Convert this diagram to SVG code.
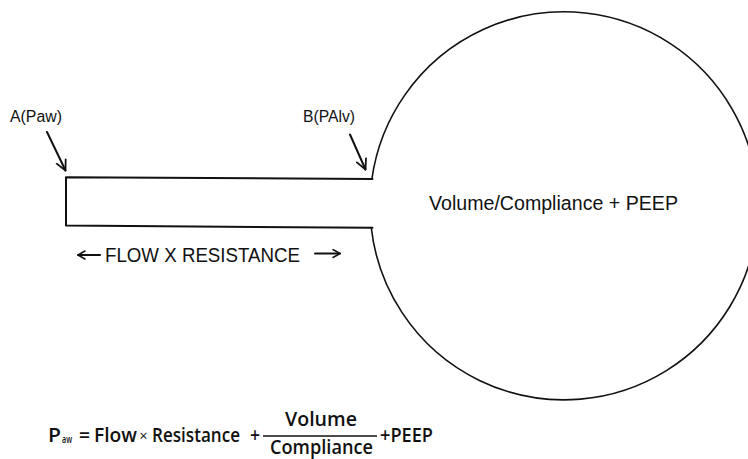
<svg xmlns="http://www.w3.org/2000/svg" width="748" height="459" viewBox="0 0 748 459">
<style>
  .ln { fill: none; stroke: #111; stroke-width: 2; stroke-linecap: round; stroke-linejoin: round; }
  .cir { fill: none; stroke: #111; stroke-width: 1.6; }
  .t { font-family: "Liberation Sans", Arial, Helvetica, sans-serif; fill: #111; }
  .f { font-family: "Open Sans", "Liberation Sans", Arial, sans-serif; font-weight: 600; fill: #111; font-size: 20.5px; }
  .fs { font-family: "Open Sans", "Liberation Sans", Arial, sans-serif; font-weight: 600; fill: #111; font-size: 11px; }
  .fx { font-family: "Open Sans", "Liberation Sans", Arial, sans-serif; fill: #111; font-size: 15px; }
</style>
<defs>
  <marker id="ah" markerUnits="userSpaceOnUse" viewBox="0 0 12 12" markerWidth="12" markerHeight="12" refX="11" refY="6" orient="auto">
    <path d="M1,1 L11,6 L1,11" fill="none" stroke="#111" stroke-width="1.8" stroke-linecap="round" stroke-linejoin="round"/>
  </marker>
  <marker id="ahs" markerUnits="userSpaceOnUse" viewBox="0 0 10 10" markerWidth="10" markerHeight="10" refX="9" refY="5" orient="auto">
    <path d="M2,1 L9,5 L2,9" fill="none" stroke="#111" stroke-width="1.5" stroke-linecap="round" stroke-linejoin="round"/>
  </marker>
</defs>
<rect width="748" height="459" fill="#fff"/>

<g id="alveolus">
  <path class="cir" d="M371.9,179 A194,194 0 1 1 371.3,228"/>
  <text class="t" x="429" y="210" font-size="19.5" textLength="249" lengthAdjust="spacingAndGlyphs">Volume/Compliance + PEEP</text>
</g>

<g id="airway">
  <path class="ln" d="M372.5,179 L66,177.3 L66,225.5 L372.5,227.8"/>
</g>

<g id="labelA">
  <text class="t" x="10" y="122" font-size="16" textLength="52" lengthAdjust="spacingAndGlyphs">A(Paw)</text>
</g>
<g id="labelB">
  <text class="t" x="303" y="122" font-size="16" textLength="52" lengthAdjust="spacingAndGlyphs">B(PAlv)</text>
</g>

<g id="flowLabel">
  <text class="t" x="105" y="262" font-size="19.5" textLength="195" lengthAdjust="spacingAndGlyphs">FLOW X RESISTANCE</text>
</g>

<g id="connectors">
  <line class="ln" x1="47" y1="132" x2="65.5" y2="170.5" marker-end="url(#ah)"/>
  <line class="ln" x1="350" y1="134.5" x2="365.5" y2="169.5" marker-end="url(#ah)"/>
  <line class="ln" stroke-width="1.6" x1="100" y1="255" x2="78" y2="255" marker-end="url(#ahs)"/>
  <line class="ln" stroke-width="1.6" x1="315" y1="253.5" x2="340" y2="253.5" marker-end="url(#ahs)"/>
</g>

<g id="equation">
  <text class="f" x="48" y="442" textLength="13" lengthAdjust="spacingAndGlyphs">P</text>
  <text class="fs" x="62" y="443" textLength="10" lengthAdjust="spacingAndGlyphs">aw</text>
  <text class="f" x="79" y="442" textLength="11" lengthAdjust="spacingAndGlyphs">=</text>
  <text class="f" x="94" y="442" textLength="43" lengthAdjust="spacingAndGlyphs">Flow</text>
  <text class="fx" x="139.5" y="441" textLength="8" lengthAdjust="spacingAndGlyphs">×</text>
  <text class="f" x="152" y="442" textLength="88" lengthAdjust="spacingAndGlyphs">Resistance</text>
  <text class="f" x="250" y="442" textLength="10" lengthAdjust="spacingAndGlyphs">+</text>
  <text class="f" x="285" y="426" textLength="72" lengthAdjust="spacingAndGlyphs">Volume</text>
  <line x1="263" y1="436" x2="377" y2="436" stroke="#111" stroke-width="1.5"/>
  <text class="f" x="270" y="454" textLength="103" lengthAdjust="spacingAndGlyphs">Compliance</text>
  <text class="f" x="380" y="442" textLength="53" lengthAdjust="spacingAndGlyphs">+PEEP</text>
</g>
</svg>
